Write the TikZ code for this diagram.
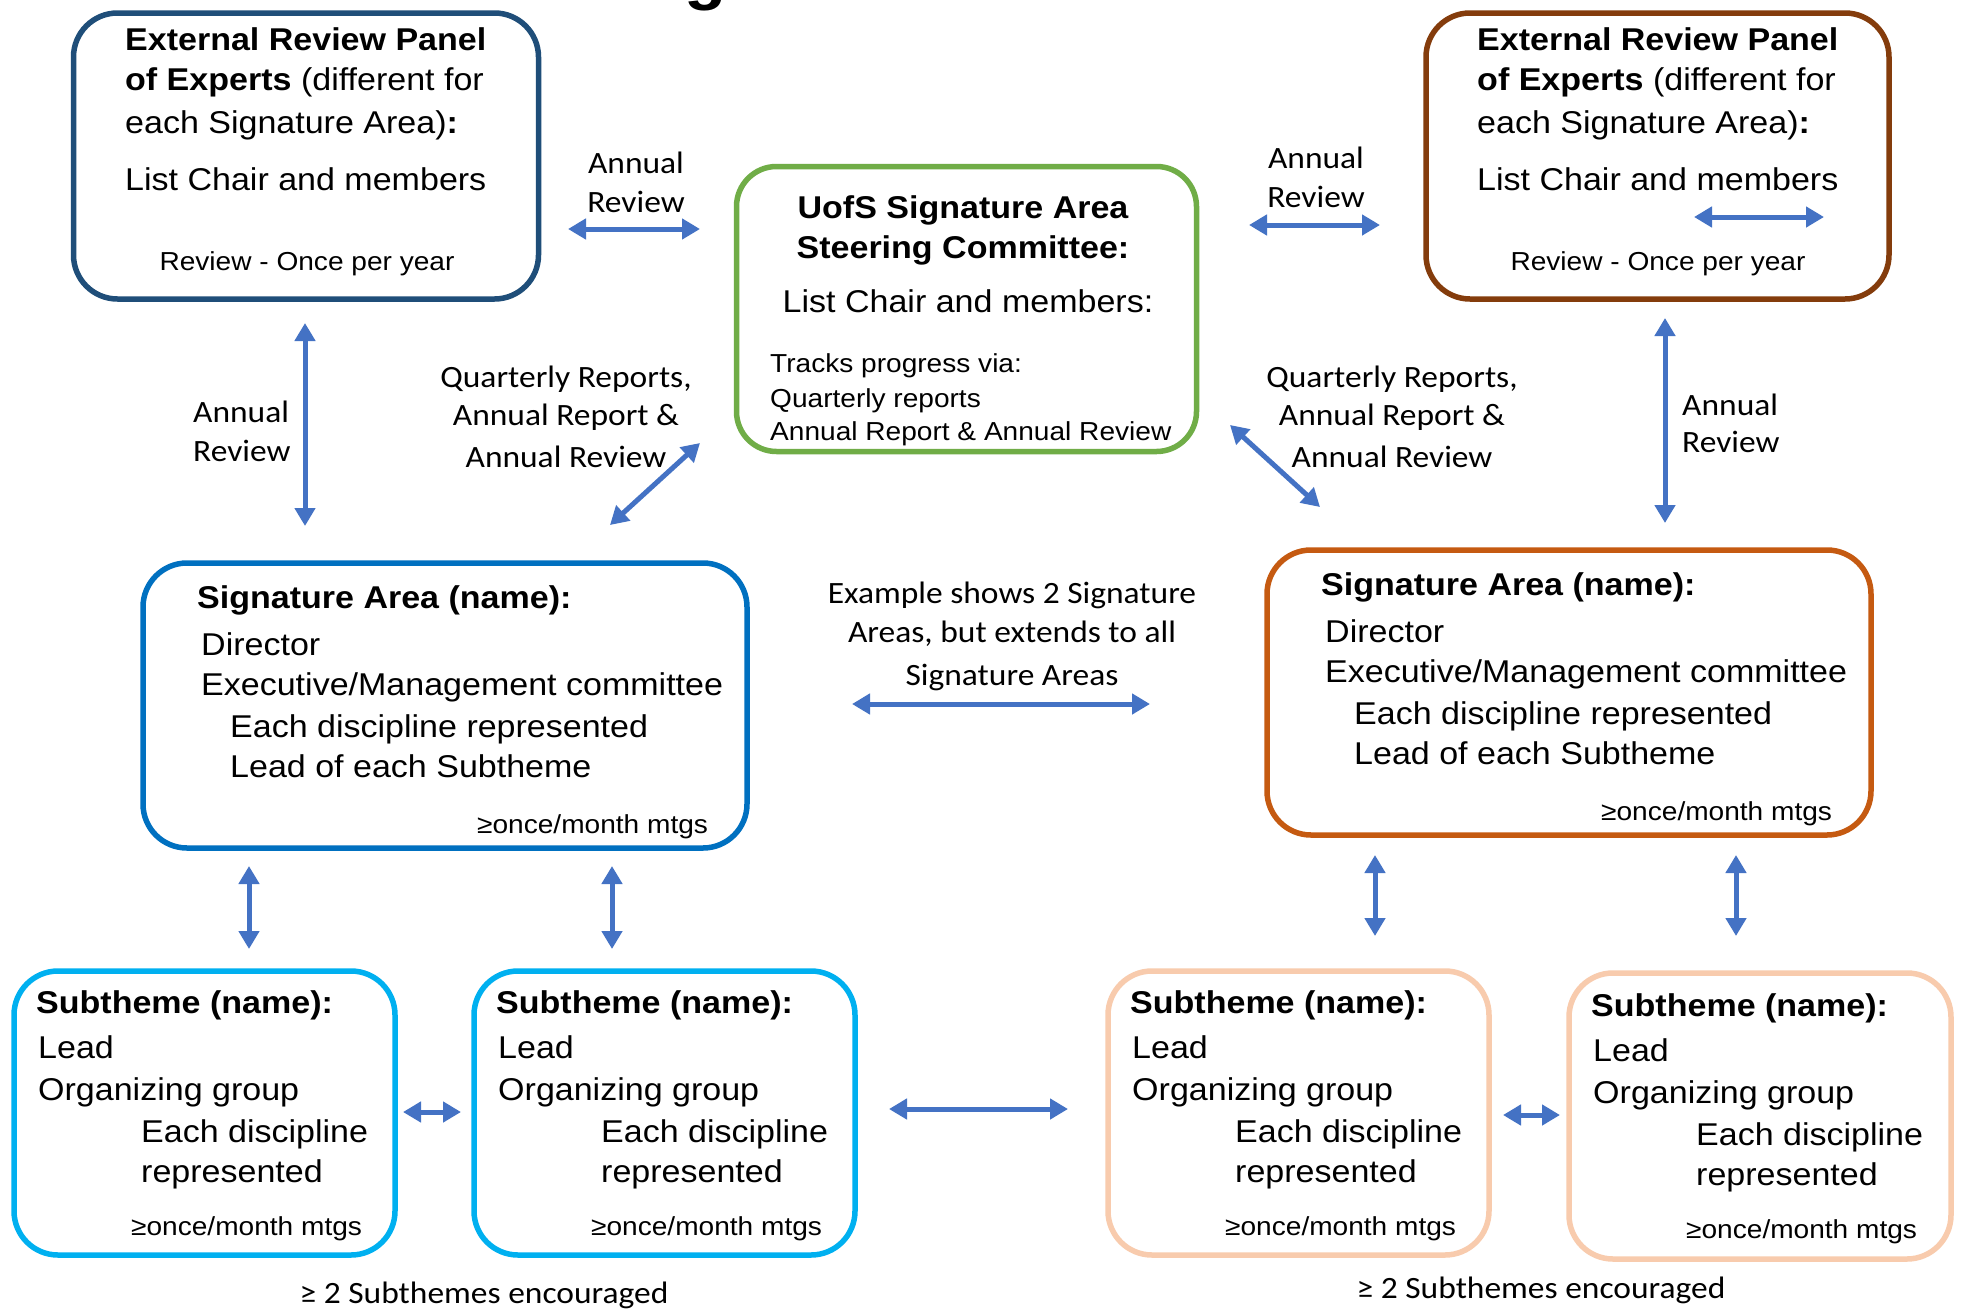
\documentclass[tikz,border=0pt]{standalone}
\usepackage{fontspec}
\setmainfont[FakeStretch=1.08]{Liberation Sans}
\newfontfamily\calfont[FakeStretch=1.08]{Carlito}
\usetikzlibrary{arrows.meta}
\definecolor{cErpL}{HTML}{1F4E79}
\definecolor{cErpR}{HTML}{843C0C}
\definecolor{cSteer}{HTML}{70AD47}
\definecolor{cSaL}{HTML}{0070C0}
\definecolor{cSaR}{HTML}{C55A11}
\definecolor{cStL}{HTML}{00B0F0}
\definecolor{cStR}{HTML}{F8CBAD}
\definecolor{cArr}{HTML}{4472C4}
\newcommand\szMain{\fontsize{31.5}{38}\selectfont}
\newcommand\szSmall{\fontsize{26}{32}\selectfont}
\newcommand\szLab{\fontsize{31}{38}\selectfont}
\newcommand\szTitle{\fontsize{64}{64}\selectfont}
\begin{document}
\begin{tikzpicture}[x=1pt,y=-1pt,
  bx/.style={draw, rounded corners=44pt, line width=5.5pt, fill=white, inner sep=0},
  tl/.style={anchor=base west, inner sep=0, font=\szMain},
  tc/.style={anchor=base, inner sep=0, font=\szMain},
  sl/.style={anchor=base west, inner sep=0, font=\szSmall},
  sc/.style={anchor=base, inner sep=0, font=\szSmall},
  lab/.style={anchor=base, inner sep=0, font=\calfont\szLab},
  labl/.style={anchor=base west, inner sep=0, font=\calfont\szLab},
  arr/.style={draw=cArr, line width=5pt, {Triangle[length=18pt,width=20pt]}-{Triangle[length=18pt,width=20pt]}},
]
\useasboundingbox (0,0) rectangle (1963,1310);
\fill[white] (0,0) rectangle (1963,1310);

% cut-off title fragment
\begin{scope}
\clip (0,0) rectangle (1963,1310);
\node[anchor=base, inner sep=0, font=\bfseries\szTitle] (ttl) at (706,-3) {g};
\end{scope}

% ---------- boxes ----------
\node[bx, draw=cErpL, minimum width=465, minimum height=286] (erpL) at (306,156) {};
\node[bx, draw=cErpR, minimum width=463, minimum height=286] (erpR) at (1657.5,156) {};
\node[bx, draw=cSteer, minimum width=460, minimum height=285, rounded corners=40pt] (steer) at (966.5,309) {};
\node[bx, draw=cSaL, minimum width=604, minimum height=285] (saL) at (445,705.5) {};
\node[bx, draw=cSaR, minimum width=604, minimum height=285] (saR) at (1569,692.5) {};
\node[bx, draw=cStL, minimum width=381, minimum height=284] (st1) at (204.5,1113) {};
\node[bx, draw=cStL, minimum width=381, minimum height=284] (st2) at (664.5,1113) {};
\node[bx, draw=cStR, minimum width=381, minimum height=284] (st3) at (1298.5,1113) {};
\node[bx, draw=cStR, minimum width=382, minimum height=286] (st4) at (1760,1116) {};

% ---------- external review panels ----------
\node[tl] (eL1) at (125,50) {\bfseries External Review Panel};
\node[tl] (eL2) at (125,90) {\textbf{of Experts} (different for};
\node[tl] (eL3) at (125,133) {each Signature Area)\textbf{:}};
\node[tl] (eL4) at (125,190) {List Chair and members};
\node[sc] (eL5) at (307,270) {Review - Once per year};

\node[tl] (eR1) at (1477,50) {\bfseries External Review Panel};
\node[tl] (eR2) at (1477,90) {\textbf{of Experts} (different for};
\node[tl] (eR3) at (1477,133) {each Signature Area)\textbf{:}};
\node[tl] (eR4) at (1477,190) {List Chair and members};
\node[sc] (eR5) at (1658,270) {Review - Once per year};

% ---------- steering committee ----------
\node[tc] (s1) at (963,218) {\bfseries UofS Signature Area};
\node[tc] (s2) at (963,258) {\bfseries Steering Committee:};
\node[tc] (s3) at (968,312) {List Chair and members:};
\node[sl] (s4) at (770,372) {Tracks progress via:};
\node[sl] (s5) at (770,407) {Quarterly reports};
\node[sl] (s6) at (770,440) {Annual Report \& Annual Review};

% ---------- signature areas ----------
\foreach \dx/\dy/\nm in {0/0/L, 1124/-13/R}{
  \node[tl] (sa\nm1) at (197+\dx,608+\dy) {\bfseries Signature Area (name):};
  \node[tl] (sa\nm2) at (201+\dx,655+\dy) {Director};
  \node[tl] (sa\nm3) at (201+\dx,695+\dy) {Executive/Management committee};
  \node[tl] (sa\nm4) at (230+\dx,737+\dy) {Each discipline represented};
  \node[tl] (sa\nm5) at (230+\dx,777+\dy) {Lead of each Subtheme};
  \node[sl] (sa\nm6) at (477+\dx,833+\dy) {≥once/month mtgs};
}

% ---------- subthemes ----------
\foreach \dx/\dy/\nm in {0/0/a, 460/0/b, 1094/0/c, 1555/3/d}{
  \node[tl] (st\nm1) at (36+\dx,1013+\dy) {\bfseries Subtheme (name):};
  \node[tl] (st\nm2) at (38+\dx,1058+\dy) {Lead};
  \node[tl] (st\nm3) at (38+\dx,1100+\dy) {Organizing group};
  \node[tl] (st\nm4) at (141+\dx,1142+\dy) {Each discipline};
  \node[tl] (st\nm5) at (141+\dx,1182+\dy) {represented};
  \node[sl] (st\nm6) at (131+\dx,1235+\dy) {≥once/month mtgs};
}

% ---------- labels ----------
\node[lab] (l1a) at (636,173) {Annual};
\node[lab] (l1b) at (636,212) {Review};
\node[lab] (l2a) at (1316,168) {Annual};
\node[lab] (l2b) at (1316,207) {Review};
\node[lab] (l3a) at (566,387) {Quarterly Reports,};
\node[lab] (l3b) at (566,425) {Annual Report \&};
\node[lab] (l3c) at (566,467) {Annual Review};
\node[lab] (l4a) at (1392,387) {Quarterly Reports,};
\node[lab] (l4b) at (1392,425) {Annual Report \&};
\node[lab] (l4c) at (1392,467) {Annual Review};
\node[labl] (l5a) at (193,422) {Annual};
\node[labl] (l5b) at (193,461) {Review};
\node[labl] (l6a) at (1682,415) {Annual};
\node[labl] (l6b) at (1682,452) {Review};
\node[lab] (l7a) at (1012,603) {Example shows 2 Signature};
\node[lab] (l7b) at (1012,642) {Areas, but extends to all};
\node[lab] (l7c) at (1012,685) {Signature Areas};
\node[lab] (l8) at (484,1303) {≥ 2 Subthemes encouraged};
\node[lab] (l9) at (1541,1298) {≥ 2 Subthemes encouraged};

% ---------- arrows ----------
\coordinate (a1s) at (568,229);  \coordinate (a1e) at (700,229);
\coordinate (a2s) at (1249,225); \coordinate (a2e) at (1380,225);
\coordinate (a3s) at (610,525);  \coordinate (a3e) at (700,443);
\coordinate (a4s) at (1230,425); \coordinate (a4e) at (1320,507);
\coordinate (a5s) at (305,323);  \coordinate (a5e) at (305,526);
\coordinate (a6s) at (1665,318); \coordinate (a6e) at (1665,523);
\coordinate (a7s) at (852,704);  \coordinate (a7e) at (1150,704);
\coordinate (a8s) at (249,866);  \coordinate (a8e) at (249,949);
\coordinate (a9s) at (612,866);  \coordinate (a9e) at (612,949);
\coordinate (a10s) at (1375,855); \coordinate (a10e) at (1375,936);
\coordinate (a11s) at (1736,855); \coordinate (a11e) at (1736,936);
\coordinate (a12s) at (403,1112); \coordinate (a12e) at (461,1112);
\coordinate (a13s) at (889,1109); \coordinate (a13e) at (1068,1109);
\coordinate (a14s) at (1503,1115); \coordinate (a14e) at (1560,1115);
\coordinate (a15s) at (1694,217); \coordinate (a15e) at (1824,217);
\foreach \i in {1,...,15}{ \draw[arr] (a\i s) -- (a\i e); }
\end{tikzpicture}
\end{document}
